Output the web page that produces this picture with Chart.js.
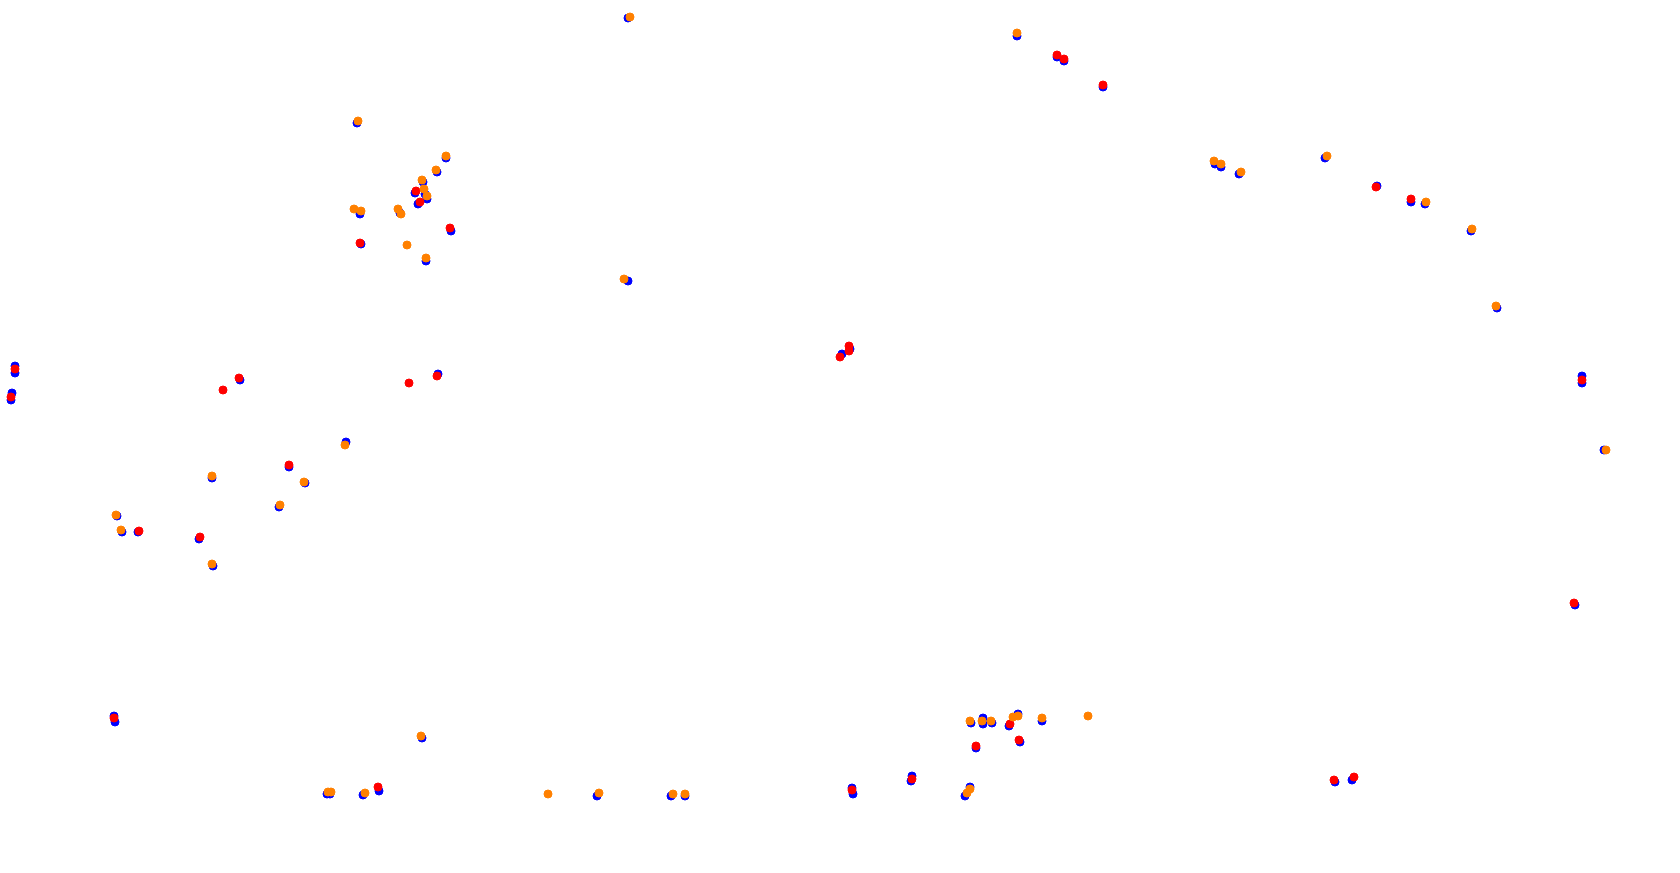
<!DOCTYPE html>
<html>
<head>
<meta charset="utf-8">
<script src="https://cdn.jsdelivr.net/npm/chart.js@4/dist/chart.umd.min.js"></script>
<style>
    html, body { margin: 0; padding: 0; background: #ffffff; }
    #wrap { width: 1680px; height: 873px; }
</style>
</head>
<body>
<div id="wrap"><canvas id="chart" width="1680" height="873"></canvas></div>
<script>
// ── DATA ─────────────────────────────────────────────

var blueX = [357, 446, 437, 423, 415, 425, 427, 418, 360, 400, 451, 361, 426,
             628, 1017, 1057, 1064, 1103, 1215, 1221, 1239, 1325, 1377, 1411, 1425, 1471,
             1497, 1582, 1582, 1604, 1575, 15, 15, 12, 11, 240, 438, 346, 289, 305, 279, 212, 117,
             122, 138, 199, 213, 850, 842, 114, 115, 422, 327, 330, 363, 379, 597,
             671, 685, 852, 853, 912, 911, 965, 970, 971, 983, 983, 992, 976, 1009,
             1018, 1020, 1042, 1335, 1352, 628];
var blueY = [123, 158, 172, 182, 193, 194, 199, 204, 214, 213, 231, 244, 261,
             18, 36, 57, 61, 87, 164, 167, 174, 158, 186, 202, 204, 231,
             308, 376, 383, 450, 605, 366, 373, 393, 400, 380, 374, 442, 467, 483, 507, 478, 516,
             532, 532, 539, 566, 349, 354, 716, 722, 738, 794, 794, 795, 791, 796,
             796, 796, 788, 794, 776, 781, 796, 787, 723, 718, 724, 723, 748, 726,
             714, 742, 721, 782, 780, 281];

var redX = [416, 420, 450, 360, 1057, 1064, 1103, 1376, 1411, 1582, 1574,
            15, 11, 239, 223, 409, 437, 289, 139, 200, 849, 849, 840,
            114, 378, 852, 912, 976, 1010, 1019, 1334, 1354];
var redY = [191, 202, 228, 243, 55, 59, 85, 187, 199, 380, 603,
            369, 397, 378, 390, 383, 376, 465, 531, 537, 346, 351, 357,
            718, 787, 790, 779, 746, 724, 740, 780, 777];

var orangeX = [358, 446, 436, 422, 424, 427, 354, 361, 398, 401, 407, 426,
               630, 1017, 1214, 1221, 1241, 1327, 1426, 1472, 1496, 1606,
               345, 304, 280, 212, 116, 121, 212, 421, 328, 331, 365, 548,
               599, 673, 685, 967, 970, 970, 982, 991, 1013, 1018, 1042, 1088, 624];
var orangeY = [121, 156, 170, 180, 189, 196, 209, 211, 209, 214, 245, 258,
               17, 33, 161, 164, 172, 156, 202, 229, 306, 450,
               445, 482, 505, 476, 515, 530, 564, 736, 792, 792, 793, 794,
               793, 794, 794, 793, 789, 721, 721, 721, 717, 716, 718, 716, 279];

// ── BUILD POINTS ─────────────────────────────────────

function toPoints(xs, ys) {
    var pts = [];
    for (var i = 0; i < xs.length; i++) {
        pts.push({ x: xs[i], y: ys[i] });
    }
    return pts;
}

function makeSet(label, xs, ys, color, order) {
    return {
        label: label,
        data: toPoints(xs, ys),
        backgroundColor: color,
        borderColor: color,
        borderWidth: 1,
        pointRadius: 4,
        pointHoverRadius: 4,
        order: order
    };
}

// ── CHART ────────────────────────────────────────────

var ctx = document.getElementById('chart').getContext('2d');

var chart = new Chart(ctx, {
    type: 'scatter',
    data: {
        datasets: [
            makeSet('blue', blueX, blueY, '#0000ff', 3),
            makeSet('red', redX, redY, '#ff0000', 2),
            makeSet('orange', orangeX, orangeY, '#ff8000', 1)
        ]
    },
    options: {
        responsive: false,
        animation: false,
        layout: { padding: 0, autoPadding: false },
        plugins: {
            legend: { display: false },
            tooltip: { enabled: false }
        },
        scales: {
            x: { display: false, min: 0, max: 1680 },
            y: { display: false, min: 0, max: 873, reverse: true }
        }
    }
});
</script>
</body>
</html>
